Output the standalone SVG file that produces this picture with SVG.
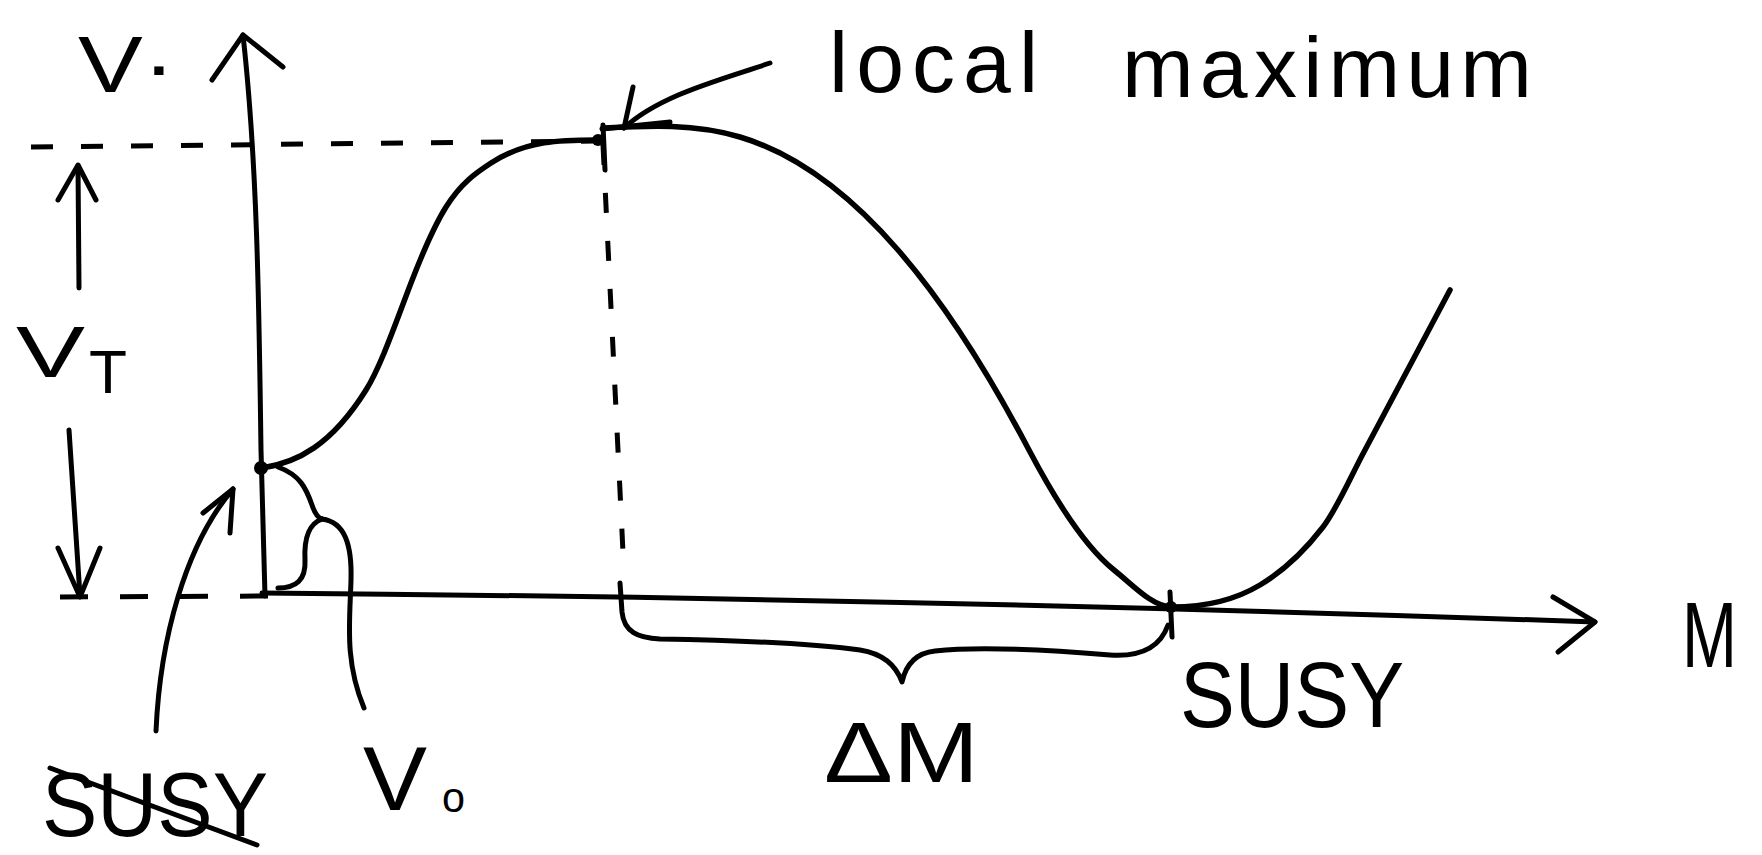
<svg xmlns="http://www.w3.org/2000/svg" width="1762" height="855" viewBox="0 0 1762 855">
<style>
.ln{fill:none;stroke:#000;stroke-width:5;stroke-linecap:round;stroke-linejoin:round}
.cv{fill:none;stroke:#000;stroke-width:5.5;stroke-linecap:round;stroke-linejoin:round}
.ds{fill:none;stroke:#000;stroke-width:5;stroke-linecap:butt}
.tx{font-family:"Liberation Sans",Arial,sans-serif;fill:#000}
</style>
<rect width="1762" height="855" fill="#fff"/>
<g id="axes">
<path class="ln" d="M265 596 L261 450 C259 300 257 160 243 35"/>
<path class="ln" d="M212 80 L243 35 L283 67"/>
<path class="ln" d="M262 593 Q900 598 1595 622"/>
<path class="ln" d="M1553 597 L1595 622 L1558 652"/>
</g>
<g id="guides">
<path class="ds" d="M31 147 L596 141" stroke-dasharray="22 28"/>
<path class="ds" d="M603 145 L623 552" stroke-dasharray="20 28"/>
<path class="ds" d="M60 597 L268 596" stroke-dasharray="28 32"/>
</g>
<g id="curve">
<path class="cv" d="M262 468 C296.7 462.8 331.3 445.5 366 390 C381 366 396 322 411 283 C422.7 252.6 434.3 225.7 446 207 C461 183 476 172.8 491 163 C526.7 139.8 562.3 140 598 140"/>
<path class="cv" d="M603 128 C648.7 125.7 694.3 123.3 740 137 C792.7 152.8 845.3 189.4 898 250 C941.7 300.2 985.3 367 1029 450 C1057.3 503.8 1085.7 547.4 1114 570 C1133.3 585.4 1152.7 607 1172 607 C1201.3 607 1230.7 602.6 1260 585 C1281 572.4 1302 554.3 1323 527 C1337 508.8 1351 475.9 1365 450 C1393.3 397.6 1421.7 343.2 1450 290"/>
<path class="ln" d="M602 129 L670 122"/>
<path class="ln" d="M603 125 L605 170"/>
<circle cx="598" cy="140" r="6"/>
<circle cx="261" cy="468" r="7"/>
<circle cx="1171" cy="607" r="6"/>
<path class="ln" d="M1170 592 L1172 637"/>
</g>
<g id="connectors">
<path class="ln" d="M770 63 C720 80 660 95 624 128"/>
<path class="ln" d="M633 87 L624 128"/>
<path class="ln" d="M79 288 L78 166"/>
<path class="ln" d="M58 200 L78 165 L96 200"/>
<path class="ln" d="M69 430 L80 596"/>
<path class="ln" d="M58 548 L80 597 L100 548"/>
<path class="ln" d="M156 731 C160 640 185 545 233 489"/>
<path class="ln" d="M203 513 L233 489 L230 533"/>
<path class="ln" d="M278 467 C300 475 306 488 312 505 C315 514 318 518 322 519"/>
<path class="ln" d="M322 519 C308 524 304 540 305 560 C306 580 296 588 278 588"/>
<path class="ln" d="M322 519 C345 522 352 545 351 580 C350 620 344 660 364 708"/>
<path class="ln" d="M620 583 L622 612 C624 632 638 638 660 639 C720 640 800 642 860 650 C885 654 897 668 902 682 C906 664 916 653 935 651 C980 646 1050 650 1110 655 C1140 657 1160 648 1168 625"/>
</g>
<g id="label-V">
<text class="tx" x="78" y="92" font-size="80" textLength="97" lengthAdjust="spacingAndGlyphs">V·</text>
</g>
<g id="label-VT">
<text class="tx" x="16" y="377" font-size="73" textLength="69" lengthAdjust="spacingAndGlyphs">V</text>
<text class="tx" x="89" y="393" font-size="62" textLength="38" lengthAdjust="spacingAndGlyphs">T</text>
</g>
<g id="label-local-maximum">
<text class="tx" x="829" y="92" font-size="86" textLength="209" lengthAdjust="spacing">local</text>
<text class="tx" x="1122" y="97" font-size="86" textLength="410" lengthAdjust="spacing">maximum</text>
</g>
<g id="label-SUSY-struck">
<text class="tx" x="42" y="836" font-size="90" textLength="226" lengthAdjust="spacingAndGlyphs">SUSY</text>
<path class="ln" d="M50 768 L257 845"/>
</g>
<g id="label-V0">
<text class="tx" x="363" y="810" font-size="90" textLength="64" lengthAdjust="spacingAndGlyphs">V</text>
<text class="tx" x="442" y="812" font-size="42" textLength="23" lengthAdjust="spacingAndGlyphs">o</text>
</g>
<g id="label-DeltaM">
<text class="tx" x="824" y="782" font-size="86" textLength="155" lengthAdjust="spacingAndGlyphs">ΔM</text>
</g>
<g id="label-SUSY">
<text class="tx" x="1180" y="727" font-size="93" textLength="224" lengthAdjust="spacingAndGlyphs">SUSY</text>
</g>
<g id="label-M">
<text class="tx" x="1682" y="667" font-size="93" textLength="55" lengthAdjust="spacingAndGlyphs">M</text>
</g>
</svg>
